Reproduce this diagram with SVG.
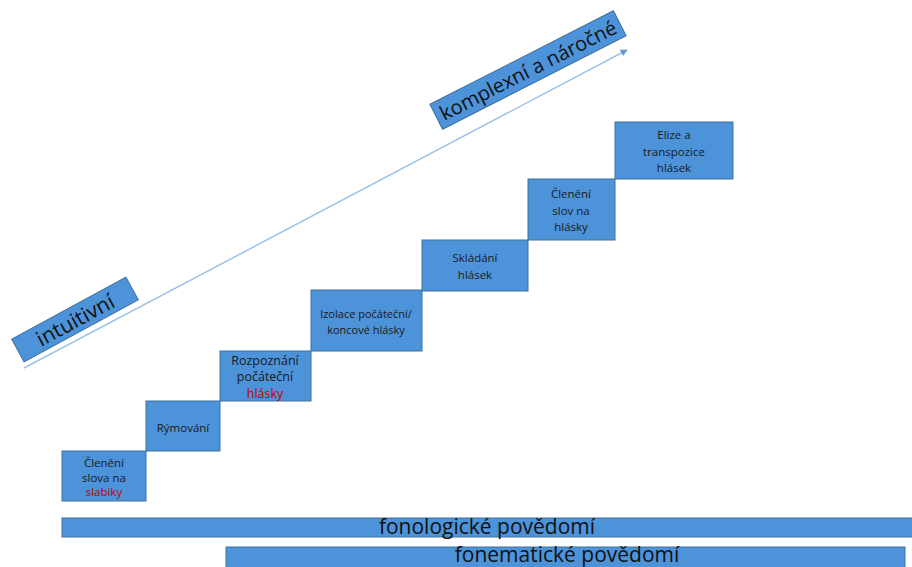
<svg xmlns="http://www.w3.org/2000/svg" width="912" height="567" viewBox="0 0 912 567">
<defs>
<style>
.box{fill:#4d93d9;stroke:#41719c;stroke-width:1}
.t{font-family:"Open Sans","Liberation Sans",sans-serif;font-size:11.5px;fill:#1a1a1a;text-anchor:middle;dominant-baseline:central}
.r{fill:#c00000}
.big{font-family:"Open Sans","Liberation Sans",sans-serif;font-size:20px;fill:#111;text-anchor:middle;dominant-baseline:central}
.bot{font-size:21px}
.ln{stroke:#9dc3e6;stroke-width:1.5;fill:none}
</style>
<marker id="ah" viewBox="0 0 10 10" refX="9" refY="5" markerWidth="7" markerHeight="7" orient="auto" markerUnits="userSpaceOnUse">
<path d="M0,0 L10,5 L0,10 z" fill="#5b9bd5"/>
</marker>
</defs>
<g id="connectors">
<line class="ln" x1="24" y1="368" x2="627" y2="50" marker-end="url(#ah)"/>
</g>
<g id="intuitivni" transform="translate(75,319.5) rotate(-28.5)">
<rect class="box" x="-65" y="-13" width="130" height="26"/>
<text class="big" x="0" y="0" style="font-size:21px">intuitivní</text>
</g>
<g id="komplexni" transform="translate(528,70) rotate(-27)">
<rect class="box" x="-103" y="-14" width="206" height="28"/>
<text class="big" x="0" y="0">komplexní a náročné</text>
</g>
<g id="step1">
<rect class="box" x="62" y="451" width="84" height="50"/>
<text class="t" x="104" y="462">Členění</text>
<text class="t" x="104" y="477">slova na</text>
<text class="t r" x="104" y="491">slabiky</text>
</g>
<g id="step2">
<rect class="box" x="146" y="401" width="74" height="50"/>
<text class="t" x="183" y="427">Rýmování</text>
</g>
<g id="step3">
<rect class="box" x="220" y="351" width="91" height="50"/>
<text class="t" x="265" y="360" style="font-size:12.5px">Rozpoznání</text>
<text class="t" x="265" y="376" style="font-size:12.5px">počáteční</text>
<text class="t r" x="265" y="393" style="font-size:12.5px">hlásky</text>
</g>
<g id="step4">
<rect class="box" x="311" y="290" width="111" height="61"/>
<text class="t" x="366" y="313" style="font-size:11px">Izolace počáteční/</text>
<text class="t" x="366" y="329" style="font-size:11px">koncové hlásky</text>
</g>
<g id="step5">
<rect class="box" x="422" y="240" width="106" height="51"/>
<text class="t" x="475" y="257">Skládání</text>
<text class="t" x="475" y="274">hlásek</text>
</g>
<g id="step6">
<rect class="box" x="528" y="179" width="87" height="61"/>
<text class="t" x="571" y="193">Členění</text>
<text class="t" x="571" y="210">slov na</text>
<text class="t" x="571" y="226">hlásky</text>
</g>
<g id="step7">
<rect class="box" x="615" y="122" width="118" height="57"/>
<text class="t" x="674" y="134">Elize a</text>
<text class="t" x="674" y="151">transpozice</text>
<text class="t" x="674" y="167">hlásek</text>
</g>
<g id="fonologicke">
<rect class="box" x="62" y="518" width="856" height="19"/>
<text class="big bot" x="487" y="526">fonologické povědomí</text>
</g>
<g id="fonematicke">
<rect class="box" x="226" y="547" width="679" height="22"/>
<text class="big bot" x="567" y="554">fonematické povědomí</text>
</g>
</svg>
